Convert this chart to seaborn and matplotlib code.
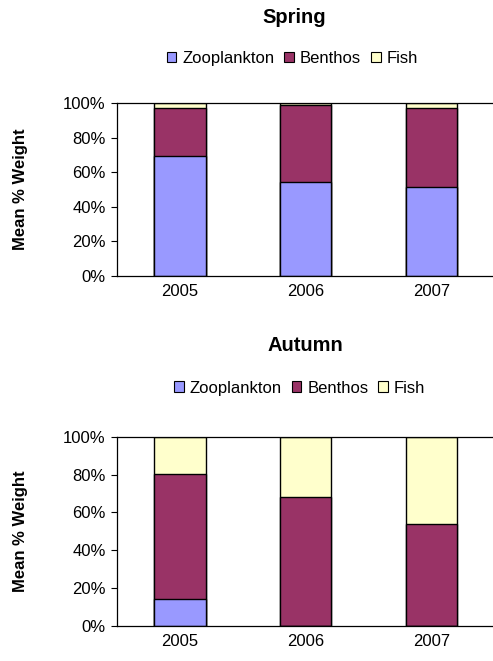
import numpy as np
import pandas as pd
import seaborn as sns
import matplotlib.pyplot as plt
from matplotlib.patches import Patch
from matplotlib.ticker import PercentFormatter

years = ['2005', '2006', '2007']
groups = ['Zooplankton', 'Benthos', 'Fish']
colors = {'Zooplankton': '#9999FF', 'Benthos': '#993366', 'Fish': '#FFFFCC'}

spring_zoo = [69.3, 54.4, 51.7]
spring_benthos = [27.9, 44.4, 45.4]
spring_fish = [2.8, 1.2, 2.9]

autumn_zoo = [14.4, 0.0, 0.0]
autumn_benthos = [65.7, 68.1, 53.7]
autumn_fish = [19.9, 31.9, 46.3]

sns.set_style('white')
plt.rcParams['font.family'] = ['Liberation Sans', 'DejaVu Sans']
plt.rcParams['text.color'] = 'black'
plt.rcParams['xtick.color'] = 'black'
plt.rcParams['ytick.color'] = 'black'
plt.rcParams['axes.labelcolor'] = 'black'


def stacked_panel(ax, zoo, benthos, fish, title, title_xy, legend_xy):
    df = pd.DataFrame({'Year': years, 'Zooplankton': zoo,
                       'Benthos': benthos, 'Fish': fish})
    # cumulative tops, draw tallest first so the lower segments sit on top
    df['Benthos_top'] = df['Zooplankton'] + df['Benthos']
    df['Fish_top'] = df['Benthos_top'] + df['Fish']
    for col, grp in [('Fish_top', 'Fish'), ('Benthos_top', 'Benthos'),
                     ('Zooplankton', 'Zooplankton')]:
        sns.barplot(data=df, x='Year', y=col, color=colors[grp], width=0.41,
                    edgecolor='black', linewidth=1.0, saturation=1, ax=ax)

    ax.set_xlim(-0.5, 2.5)
    ax.set_ylim(0, 100)
    ax.set_yticks(np.arange(0, 101, 20))
    ax.yaxis.set_major_formatter(PercentFormatter(decimals=0))
    ax.tick_params(axis='y', length=4, width=0.8, labelsize=12, pad=4, left=True)
    ax.tick_params(axis='x', length=0, labelsize=12, pad=6)
    ax.set_xlabel('')
    ax.set_ylabel('Mean % Weight', fontsize=12, fontweight='bold', labelpad=25)
    for s in ['left', 'bottom', 'top']:
        ax.spines[s].set_color('black')
        ax.spines[s].set_linewidth(0.9)
    ax.spines['right'].set_visible(False)

    fig = ax.figure
    fig.text(title_xy[0], title_xy[1], title, ha='center', va='center',
             fontsize=14.5, fontweight='bold')
    handles = [Patch(facecolor=colors[g], edgecolor='black', linewidth=0.8, label=g)
               for g in groups]
    fig.legend(handles=handles, loc='center', bbox_to_anchor=legend_xy,
               ncol=3, frameon=False, fontsize=12, handlelength=0.57,
               handleheight=0.57, handletextpad=0.36, columnspacing=0.6,
               borderpad=0)


fig = plt.figure(figsize=(4.93, 6.61), dpi=100)
ax1 = fig.add_axes([0.237, 0.5825, 0.766, 0.2617])
ax2 = fig.add_axes([0.237, 0.053, 0.766, 0.2864])

stacked_panel(ax1, spring_zoo, spring_benthos, spring_fish, 'Spring',
              (0.596, 0.973), (0.593, 0.912))
stacked_panel(ax2, autumn_zoo, autumn_benthos, autumn_fish, 'Autumn',
              (0.620, 0.478), (0.608, 0.413))

fig.savefig('out.png', dpi=100)
